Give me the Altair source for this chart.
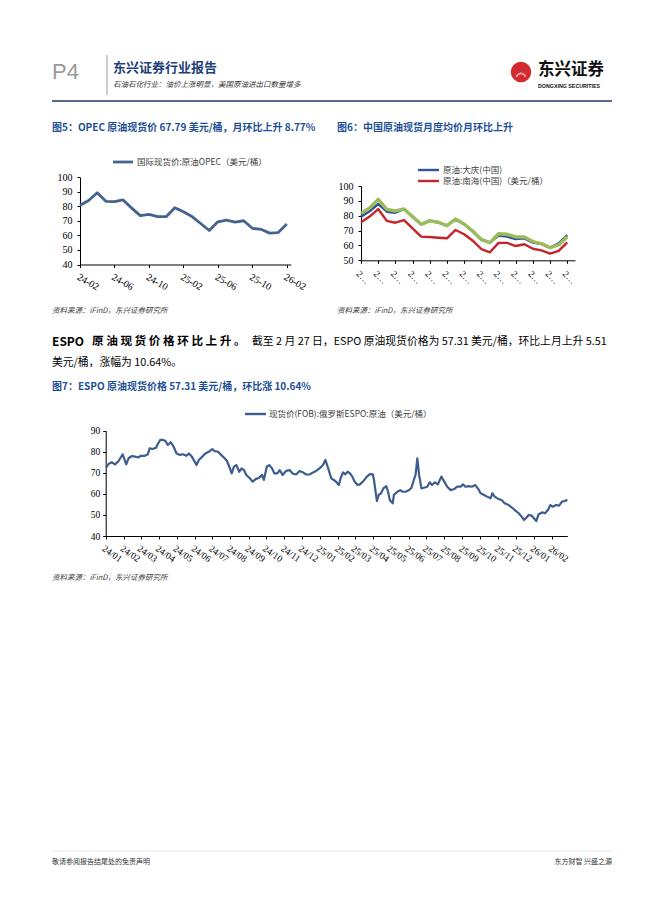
import json
import altair as alt
import pandas as pd

# ---------------- data ----------------
c5_months = ["2024-02", "2024-03", "2024-04", "2024-05", "2024-06", "2024-07", "2024-08",
             "2024-09", "2024-10", "2024-11", "2024-12", "2025-01", "2025-02", "2025-03",
             "2025-04", "2025-05", "2025-06", "2025-07", "2025-08", "2025-09", "2025-10",
             "2025-11", "2025-12", "2026-01", "2026-02"]
c5_opec = [80.8, 84.0, 89.4, 83.5, 83.3, 84.4, 78.8, 73.6, 74.5, 72.9, 72.9, 79.1, 76.3,
           73.0, 68.2, 63.4, 69.4, 70.6, 69.2, 70.1, 64.9, 64.2, 61.6, 62.0, 67.8]
c5_ticklabels = ["24-02", "24-06", "24-10", "25-02", "25-06", "25-10", "26-02"]

c6_months = c5_months
c6_daqing = [79.4, 83.0, 87.9, 82.7, 82.0, 84.5, 79.4, 74.2, 76.5, 75.3, 73.3, 77.6, 74.2,
             69.3, 63.7, 61.9, 66.6, 65.9, 64.3, 64.8, 61.9, 61.0, 58.5, 61.4, 67.0]
c6_nanhai = [75.6, 79.4, 84.5, 76.5, 75.3, 77.1, 71.5, 65.9, 65.7, 65.2, 64.8, 70.4, 67.5,
             63.2, 57.6, 55.4, 61.7, 61.7, 59.6, 60.8, 57.8, 56.7, 54.5, 56.3, 62.1]
c6_third = [81.6, 85.2, 91.0, 84.3, 83.2, 84.5, 79.4, 74.2, 76.7, 75.6, 73.3, 77.8, 74.4,
            69.7, 64.1, 61.9, 67.9, 67.5, 65.7, 65.7, 62.6, 61.2, 58.5, 60.3, 65.9]
c6_ticklabels = ["2024-02", "2024-04", "2024-06", "2024-08", "2024-10", "2024-12", "2025-02",
                 "2025-04", "2025-06", "2025-08", "2025-10", "2025-12", "2026-02"]

c7_dates = [
    "2024-01-02", "2024-01-05", "2024-01-11", "2024-01-17", "2024-01-23", "2024-01-30",
    "2024-02-05", "2024-02-09", "2024-02-15", "2024-02-20", "2024-02-26", "2024-03-01",
    "2024-03-07", "2024-03-13", "2024-03-16", "2024-03-21", "2024-03-27", "2024-03-29",
    "2024-04-03", "2024-04-08", "2024-04-12", "2024-04-16", "2024-04-21", "2024-04-26",
    "2024-05-01", "2024-05-07", "2024-05-12", "2024-05-18", "2024-05-22", "2024-05-27",
    "2024-06-04", "2024-06-08", "2024-06-14", "2024-06-19", "2024-06-25", "2024-07-01",
    "2024-07-05", "2024-07-11", "2024-07-16", "2024-07-22", "2024-07-26", "2024-07-30",
    "2024-08-03", "2024-08-07", "2024-08-11", "2024-08-16", "2024-08-20", "2024-08-24",
    "2024-08-28", "2024-09-03", "2024-09-08", "2024-09-13", "2024-09-19", "2024-09-24",
    "2024-09-27", "2024-10-02", "2024-10-06", "2024-10-11", "2024-10-15", "2024-10-20",
    "2024-10-24", "2024-10-29", "2024-11-04", "2024-11-10", "2024-11-15", "2024-11-21",
    "2024-11-27", "2024-12-03", "2024-12-08", "2024-12-14", "2024-12-20", "2024-12-25",
    "2024-12-31", "2025-01-06", "2025-01-10", "2025-01-15", "2025-01-20", "2025-01-27",
    "2025-02-02", "2025-02-05", "2025-02-09", "2025-02-13", "2025-02-17", "2025-02-21",
    "2025-02-25", "2025-03-01", "2025-03-06", "2025-03-10", "2025-03-16", "2025-03-22",
    "2025-03-27", "2025-04-01", "2025-04-03", "2025-04-08", "2025-04-11", "2025-04-15",
    "2025-04-19", "2025-04-24", "2025-04-27", "2025-04-30", "2025-05-05", "2025-05-07",
    "2025-05-13", "2025-05-18", "2025-05-22", "2025-05-27", "2025-06-02", "2025-06-06",
    "2025-06-10", "2025-06-13", "2025-06-16", "2025-06-19", "2025-06-23", "2025-06-27",
    "2025-07-03", "2025-07-07", "2025-07-11", "2025-07-16", "2025-07-21", "2025-07-27",
    "2025-08-01", "2025-08-06", "2025-08-12", "2025-08-18", "2025-08-23", "2025-08-29",
    "2025-09-02", "2025-09-06", "2025-09-12", "2025-09-17", "2025-09-23", "2025-09-28",
    "2025-10-02", "2025-10-08", "2025-10-13", "2025-10-19", "2025-10-22", "2025-10-26",
    "2025-11-01", "2025-11-07", "2025-11-12", "2025-11-19", "2025-11-25", "2025-12-01",
    "2025-12-06", "2025-12-11", "2025-12-15", "2025-12-19", "2025-12-23", "2025-12-28",
    "2026-01-01", "2026-01-05", "2026-01-09", "2026-01-15", "2026-01-20", "2026-01-25",
    "2026-01-29", "2026-02-02", "2026-02-08", "2026-02-13", "2026-02-18", "2026-02-23",
    "2026-02-27"]
c7_espo = [
    72.5, 74.0, 75.0, 74.0, 75.6, 78.8,
    74.0, 76.9, 78.0, 77.7, 77.3, 78.1,
    78.0, 78.8, 81.6, 81.3, 81.9, 83.2,
    85.6, 85.6, 85.1, 83.2, 84.5, 82.4,
    79.2, 78.5, 78.8, 78.1, 79.2, 77.7,
    73.7, 76.1, 77.7, 79.2, 80.0, 81.3,
    80.3, 80.0, 78.5, 76.9, 75.6, 72.9,
    69.7, 72.9, 73.7, 70.5, 72.1, 71.3,
    69.0, 67.4, 65.8, 67.0, 67.7, 69.0,
    66.6, 72.9, 73.7, 72.1, 69.7, 69.7,
    71.3, 69.0, 70.9, 71.3, 69.7, 69.2,
    70.9, 70.2, 69.2, 69.2, 70.2, 70.9,
    72.1, 73.7, 76.1, 72.0, 67.4, 66.1,
    64.2, 67.4, 70.2, 69.3, 70.5, 69.7,
    68.2, 65.8, 64.2, 64.5, 66.1, 68.2,
    69.4, 69.3, 66.6, 56.6, 59.5, 60.3,
    62.6, 63.7, 61.0, 57.1, 55.5, 59.5,
    61.0, 61.8, 61.0, 61.0, 61.8, 62.9,
    66.6, 69.0, 76.9, 69.0, 62.6, 62.9,
    63.4, 65.5, 64.2, 65.5, 64.5, 68.2,
    65.8, 63.4, 61.8, 62.3, 63.4, 63.4,
    64.5, 63.4, 63.7, 63.4, 64.2, 62.3,
    60.3, 59.5, 58.7, 57.9, 60.3, 58.7,
    57.6, 57.1, 55.5, 54.7, 53.4, 51.9,
    50.8, 49.2, 47.6, 48.7, 50.0, 49.7,
    48.4, 47.1, 50.3, 51.2, 50.8, 52.3,
    54.7, 53.9, 54.7, 54.4, 56.3, 56.6,
    57.3]
c7_ticklabels = ["2024-01", "2024-02", "2024-03", "2024-04", "2024-05", "2024-06", "2024-07",
                 "2024-08", "2024-09", "2024-10", "2024-11", "2024-12", "2025-01", "2025-02",
                 "2025-03", "2025-04", "2025-05", "2025-06", "2025-07", "2025-08", "2025-09",
                 "2025-10", "2025-11", "2025-12", "2026-01", "2026-02"]

# ---------------- styling helpers ----------------
W, H = 646, 882
CJK = "Noto Sans CJK SC"
SERIF = "Liberation Serif"
TITLE_BLUE = "#1d4f96"
one = alt.Data(values=[{"a": 1}])


def txt(s, x, y, size=10, color="#000000", weight="normal", font=CJK, align="left",
        baseline="middle", style="normal"):
    return alt.Chart(one).mark_text(
        text=s, align=align, baseline=baseline, fontSize=size, font=font,
        fontWeight=weight, color=color, fontStyle=style
    ).encode(x=alt.value(x), y=alt.value(y))


def hline(x1, x2, y, color, w):
    return alt.Chart(one).mark_rule(color=color, strokeWidth=w).encode(
        x=alt.value(x1), x2=alt.value(x2), y=alt.value(y))


def vline(x, y1, y2, color, w):
    return alt.Chart(one).mark_rule(color=color, strokeWidth=w).encode(
        x=alt.value(x), y=alt.value(y1), y2=alt.value(y2))


def axis_common(**kw):
    base = dict(grid=False, title=None, domainColor="#000000", domainWidth=1,
                tickColor="#000000", tickWidth=1, tickSize=3, labelColor="#000000",
                labelFont=SERIF, labelFontSize=9.5, labelOverlap=False, labelFlush=False)
    base.update(kw)
    return alt.Axis(**base)


layers = []

# ---------------- page header ----------------
layers += [
    txt("P4", 44, 64, size=22, color="#9a9a9a", font="Liberation Sans"),
    vline(99, 47, 87, "#9a9a9a", 1),
    txt("东兴证券行业报告", 105, 60, size=13, color="#1d3f7a", weight="bold"),
    txt("石油石化行业：油价上涨明显，美国原油进出口数量增多", 105, 77, size=7.5,
        color="#333333", style="italic"),
    hline(44, 604, 93, "#1f3864", 1.6),
    alt.Chart(one).mark_point(filled=True, shape="circle", color="#d42a2f", size=420,
                              opacity=1).encode(x=alt.value(513), y=alt.value(64)),
    alt.Chart(one).mark_point(filled=False, shape="M-0.6,0.3 Q0,-0.5 0.6,0.3", color="#ffffff",
                              size=260, strokeWidth=1.6).encode(x=alt.value(513), y=alt.value(66)),
    txt("东兴证券", 530, 62, size=16.5, color="#111111", weight="bold"),
    txt("DONGXING SECURITIES", 530, 78, size=5.3, color="#111111", weight="bold",
        font="Liberation Sans"),
]

# ---------------- figure titles / sources / body ----------------
layers += [
    txt("图5：OPEC 原油现货价 67.79 美元/桶，月环比上升 8.77%", 44, 120, size=10,
        color=TITLE_BLUE, weight="bold"),
    txt("图6：中国原油现货月度均价月环比上升", 329, 120, size=10, color=TITLE_BLUE, weight="bold"),
    txt("资料来源：iFinD，东兴证券研究所", 44, 303, size=7.5, color="#404040", style="italic"),
    txt("资料来源：iFinD，东兴证券研究所", 329, 303, size=7.5, color="#404040", style="italic"),
    txt("截至 2 月 27 日，ESPO 原油现货价格为 57.31 美元/桶，环比上月上升 5.51", 244, 334,
        size=10.8, color="#000000"),
    txt("美元/桶，涨幅为 10.64%。", 44, 355, size=10.8, color="#000000"),
    txt("图7：ESPO 原油现货价格 57.31 美元/桶，环比涨 10.64%", 44, 379, size=10,
        color=TITLE_BLUE, weight="bold"),
    txt("资料来源：iFinD，东兴证券研究所", 44, 570, size=7.5, color="#404040", style="italic"),
    hline(44, 604, 843, "#d8d8d8", 0.6),
    txt("敬请参阅报告结尾处的免责声明", 44, 854, size=7, color="#333333"),
    txt("东方财智 兴盛之源", 604, 854, size=7, color="#333333", align="right"),
]
# bold lead-in, spaced like the justified original
layers.append(txt("ESPO", 44, 334, size=12, color="#000000", weight="bold"))
for k, ch in enumerate("原油现货价格环比上升。"):
    layers.append(txt(ch, 84 + k * 14.2, 334, size=11.6, color="#000000", weight="bold"))

# ---------------- chart 5 ----------------
C5_COLOR = "#44648f"
df5 = pd.DataFrame({"i": list(range(len(c5_opec))), "month": c5_months, "v": c5_opec})
x5 = alt.X("i:Q", scale=alt.Scale(domain=[0, 24.45], range=[72, 282.7], nice=False, zero=False),
           axis=axis_common(orient="bottom", offset=256.5 - H,
                            values=list(range(0, 25, 4)),
                            labelExpr=json.dumps(c5_ticklabels) + "[round(datum.value/4)]",
                            labelAngle=30, labelAlign="left", labelBaseline="top",
                            labelPadding=4, labelFontSize=10))
y5 = alt.Y("v:Q", scale=alt.Scale(domain=[40, 100], range=[256.5, 169.3], nice=False, zero=False),
           axis=axis_common(orient="left", offset=-72, values=list(range(40, 101, 10)),
                            labelPadding=5, labelFontSize=10))
layers.append(alt.Chart(df5).mark_line(color=C5_COLOR, strokeWidth=2.8, strokeJoin="round")
              .encode(x=x5, y=y5))
layers += [
    hline(105, 125, 154, C5_COLOR, 2.8),
    txt("国际现货价:原油OPEC（美元/桶）", 129, 154, size=8.5, color="#404040"),
]

# ---------------- chart 6 ----------------
C6_BLUE, C6_RED, C6_GREEN = "#2f5597", "#c4242c", "#9cbc5c"
df6 = pd.DataFrame({"i": list(range(len(c6_daqing))), "month": c6_months,
                    "daqing": c6_daqing, "nanhai": c6_nanhai, "third": c6_third})


def sx6():
    return alt.Scale(domain=[0, 24.9], range=[353, 567], nice=False, zero=False)


def sy6():
    return alt.Scale(domain=[50, 100], range=[252.3, 178], nice=False, zero=False)


x6 = alt.X("i:Q", scale=sx6(),
           axis=axis_common(orient="bottom", offset=252.3 - H, values=list(range(0, 25, 2)),
                            labelExpr=json.dumps(c6_ticklabels) + "[round(datum.value/2)]",
                            labelLimit=17, labelAngle=45, labelAlign="left",
                            labelBaseline="top", labelPadding=5, labelFontSize=9.5))
y6 = alt.Y("daqing:Q", scale=sy6(),
           axis=axis_common(orient="left", offset=-353, values=list(range(50, 101, 10)),
                            labelPadding=5, labelFontSize=10))
base6 = alt.Chart(df6)
layers.append(base6.mark_line(color=C6_BLUE, strokeWidth=2.4, strokeJoin="round")
              .encode(x=x6, y=y6))
layers.append(base6.mark_line(color=C6_RED, strokeWidth=2.4, strokeJoin="round").encode(
    x=alt.X("i:Q", scale=sx6(), axis=None), y=alt.Y("nanhai:Q", scale=sy6(), axis=None)))
layers.append(base6.mark_line(color=C6_GREEN, strokeWidth=3.4, strokeJoin="round").encode(
    x=alt.X("i:Q", scale=sx6(), axis=None), y=alt.Y("third:Q", scale=sy6(), axis=None)))
layers += [
    hline(410, 431, 162, C6_BLUE, 2.4),
    txt("原油:大庆(中国)", 435, 162, size=8.5, color="#404040"),
    hline(410, 431, 173, C6_RED, 2.4),
    txt("原油:南海(中国)（美元/桶）", 435, 173, size=8.5, color="#404040"),
]

# ---------------- chart 7 ----------------
C7_COLOR = "#3d5d8e"
df7 = pd.DataFrame({"date": c7_dates, "v": c7_espo})
tick_dates = [alt.DateTime(year=int(s[:4]), month=int(s[5:7]), date=1, utc=True)
              for s in c7_ticklabels]
x7 = alt.X("date:T",
           scale=alt.Scale(type="utc",
                           domain=[alt.DateTime(year=2024, month=1, date=1, utc=True),
                                   alt.DateTime(year=2026, month=2, date=27, utc=True)],
                           range=[97.7, 559.3], nice=False),
           axis=axis_common(orient="bottom", offset=528 - H, values=tick_dates, format="%y/%m",
                            labelAngle=35, labelAlign="left", labelBaseline="top",
                            labelPadding=4, labelFontSize=9.5))
y7 = alt.Y("v:Q", scale=alt.Scale(domain=[40, 90], range=[528, 422.7], nice=False, zero=False),
           axis=axis_common(orient="left", offset=-97.7, values=list(range(40, 91, 10)),
                            labelPadding=3, labelFontSize=9.5))
layers.append(alt.Chart(df7).mark_line(color=C7_COLOR, strokeWidth=2.2, strokeJoin="round")
              .encode(x=x7, y=y7))
layers += [
    hline(237, 258, 406, C7_COLOR, 2.4),
    txt("现货价(FOB):俄罗斯ESPO:原油（美元/桶）", 261, 406, size=8.5, color="#404040"),
]

chart = (
    alt.layer(*layers)
    .properties(width=W, height=H, autosize=alt.AutoSizeParams(type="none"), padding=0,
                background="white")
    .resolve_scale(x="independent", y="independent")
    .configure_view(strokeWidth=0)
)

chart.save("out.html", embed_options={"renderer": "svg", "actions": False})
